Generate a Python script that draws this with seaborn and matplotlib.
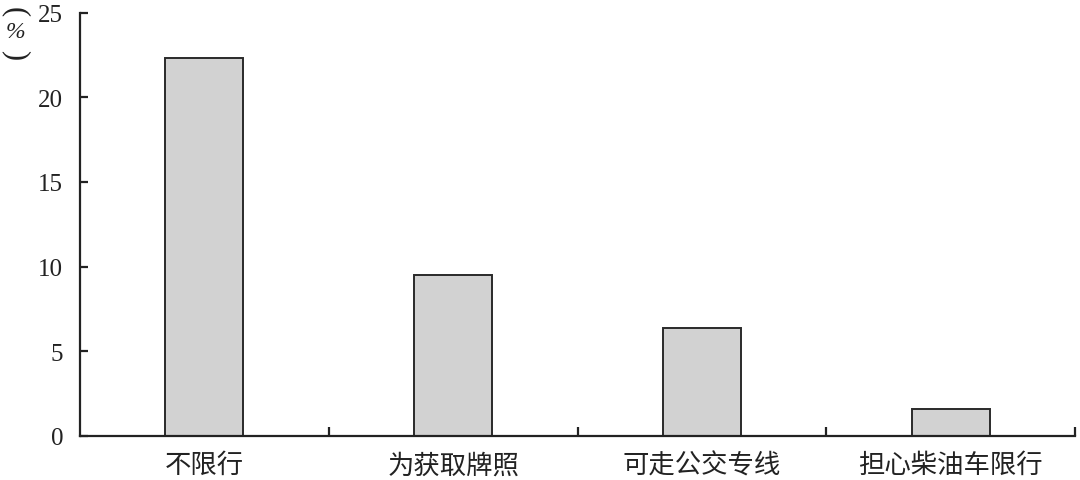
import matplotlib
matplotlib.use("Agg")
import matplotlib.pyplot as plt
import seaborn as sns
import pandas as pd

# data
categories = ["不限行", "为获取牌照", "可走公交专线", "担心柴油车限行"]
values = [22.3, 9.5, 6.4, 1.6]
y_ticks = [0, 5, 10, 15, 20, 25]

df = pd.DataFrame({"reason": categories, "pct": values})

sns.set_style("ticks")
plt.rcParams["font.family"] = ["Liberation Serif", "Noto Sans CJK SC", "DejaVu Sans"]

fig = plt.figure(figsize=(10.8, 4.81), dpi=100)
ax = fig.add_axes([80 / 1080, 1 - 437 / 481, 995 / 1080, (437 - 13.5) / 481])

sns.barplot(data=df, x="reason", y="pct", ax=ax, color="#d2d2d2",
            edgecolor="#2a2a2a", linewidth=1.4, width=0.313, saturation=1)

ax.set_xlim(-0.5, len(categories) - 0.5)
ax.set_ylim(0, 25)
ax.set_yticks(y_ticks)
ax.set_xlabel("")
ax.set_ylabel("")

for s in ["top", "right"]:
    ax.spines[s].set_visible(False)
for s in ["left", "bottom"]:
    ax.spines[s].set_linewidth(1.6)
    ax.spines[s].set_color("#222222")

ax.tick_params(axis="y", direction="in", length=6, width=1.6, pad=12,
               labelsize=18, colors="#222222")
ax.tick_params(axis="x", which="major", length=0, pad=11, labelsize=19,
               labelcolor="#222222")
ax.set_xticks([i + 0.5 for i in range(len(categories))], minor=True)
ax.tick_params(axis="x", which="minor", direction="in", length=6.5, width=1.6,
               color="#222222")
for lab in ax.get_xticklabels():
    lab.set_family(["Noto Sans CJK SC", "DejaVu Sans"])

# vertical-style unit label: rotated brackets around an upright %
fig.text(15 / 1080, 1 - 12 / 481, "(", rotation=-90, ha="center", va="center",
         fontsize=22, color="#222222")
fig.text(15 / 1080, 1 - 33 / 481, "%", ha="center", va="center",
         fontsize=17, color="#222222", style="italic")
fig.text(15 / 1080, 1 - 55 / 481, ")", rotation=-90, ha="center", va="center",
         fontsize=22, color="#222222")

fig.savefig("out.png", dpi=100)
